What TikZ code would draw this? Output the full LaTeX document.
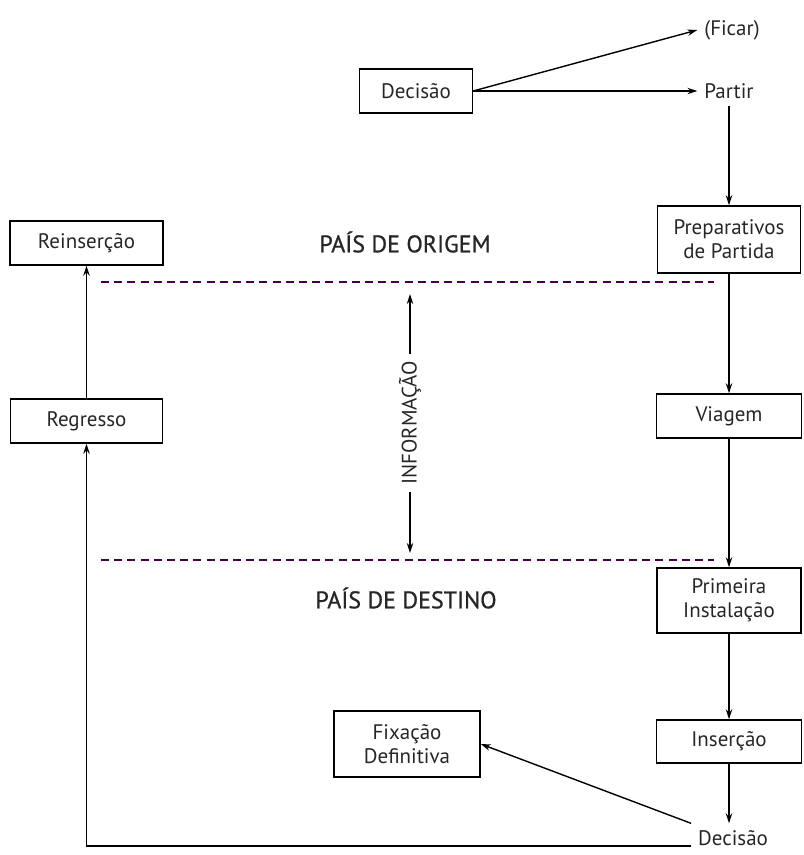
\documentclass[tikz,border=0pt]{standalone}
\usepackage{fontspec}
\setmainfont{PT Sans}
\newfontfamily\countryfont[FakeBold=0.8]{PT Sans}
\usepackage{tikz}
\usetikzlibrary{arrows.meta}

\begin{document}
\begin{tikzpicture}[x=0.5pt, y=-0.5pt,
    every node/.style={font=\fontsize{10.5}{12}\selectfont, text=black!85},
    box/.style={draw, line width=0.7pt, align=center, minimum height=22pt},
    arr/.style={-{Stealth[length=5pt,width=3.2pt]}, line width=0.7pt},
    border/.style={dashed, dash pattern=on 4pt off 2.6pt, line width=0.7pt, violet!55!black},
    country/.style={font=\countryfont\fontsize{12}{14}\selectfont}]
  \useasboundingbox (0,0) rectangle (803,855);
  % partida
  \node[box, minimum width=56.5pt] (dec1) at (416,91) {Decisão};
  \node (ficar) at (732,30) {(Ficar)};
  \node (partir) at (729,91) {Partir};
  \node[box, minimum width=71.5pt, minimum height=33.5pt] (prep) at (729,239.5) {Preparativos\\de Partida};
  \node[box, minimum width=72.5pt] (viag) at (729,416) {Viagem};
  \node[box, minimum width=72pt, minimum height=32.5pt] (prim) at (729,600.5) {Primeira\\Instalação};
  \node[box, minimum width=72.5pt, minimum height=21.5pt] (ins) at (729,741.5) {Inserção};
  \node (dec2) at (733,838) {Decisão};
  % regresso
  \node[box, minimum width=76.5pt] (reins) at (86.5,243) {Reinserção};
  \node[box, minimum width=76pt] (regr) at (86.5,421) {Regresso};
  \node[box, minimum width=73pt, minimum height=33pt] (fix) at (407,744) {Fixação\\Definitiva};
  % paises
  \node[country] (origem) at (405,242) {PAÍS DE ORIGEM};
  \node[country] (destino) at (406,598) {PAÍS DE DESTINO};
  \coordinate (o1) at (101,282);
  \coordinate (o2) at (714,282);
  \coordinate (d1) at (101,560);
  \coordinate (d2) at (714,560);
  \draw[border] (o1) -- (o2);
  \draw[border] (d1) -- (d2);
  \node[rotate=90] (info) at (410,423) {INFORMAÇÃO};
  \coordinate (itop) at (410,294);
  \coordinate (ibot) at (410,553);
  \draw[arr] (info.east) -- (itop);
  \draw[arr] (info.west) -- (ibot);
  % ligacoes
  \draw[arr] (dec1.east) -- (ficar.west);
  \draw[arr] (dec1.east) -- (partir.west);
  \draw[arr] (partir.south) -- (prep.north);
  \draw[arr] (prep.south) -- (viag.north);
  \draw[arr] (viag.south) -- (prim.north);
  \draw[arr] (prim.south) -- (ins.north);
  \draw[arr] (ins.south) -- (ins.south |- dec2.north);
  \draw[arr] (dec2.north west) -- (fix.east);
  \draw[arr] ([yshift=-4pt]dec2.west) -| (regr.south);
  \draw[arr] (regr.north) -- (reins.south);
\end{tikzpicture}
\end{document}
